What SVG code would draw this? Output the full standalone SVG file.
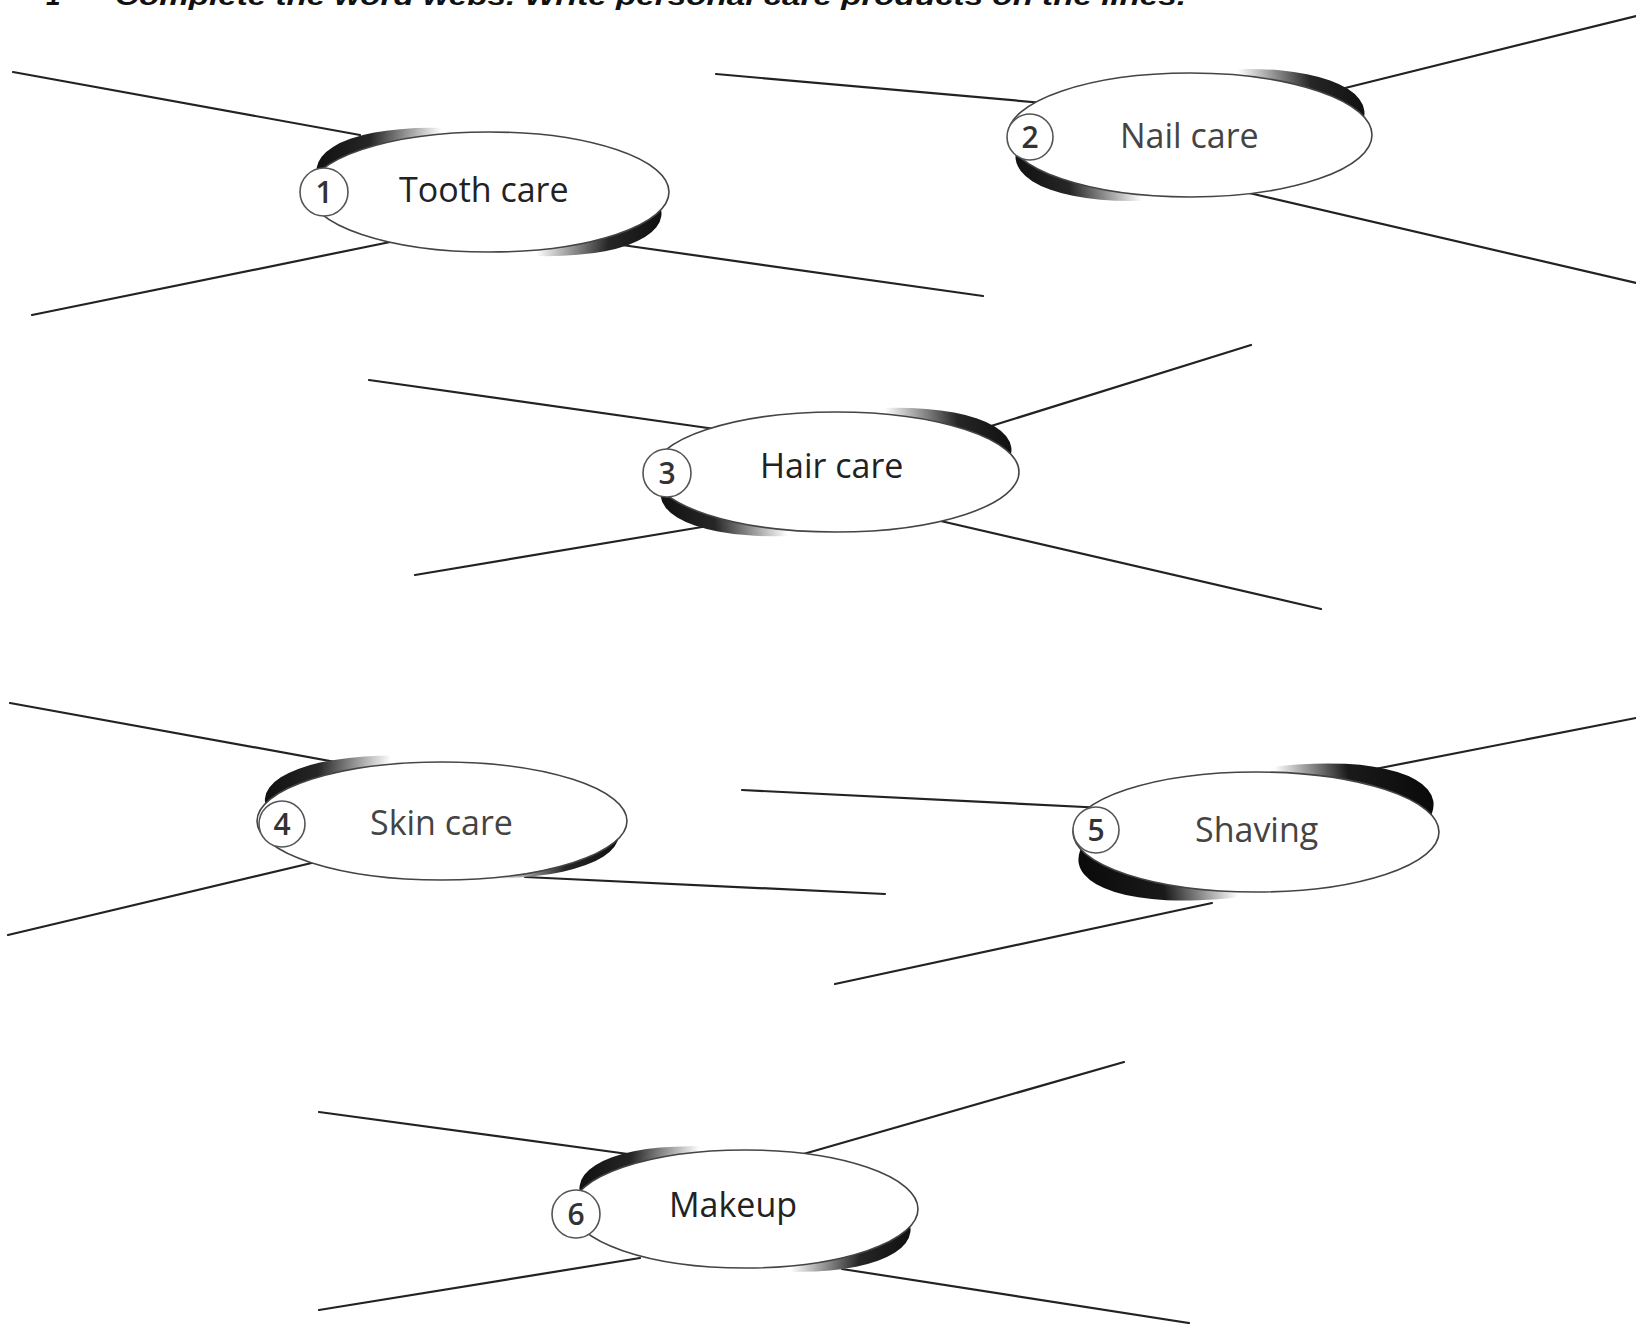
<svg xmlns="http://www.w3.org/2000/svg" width="1636" height="1324" viewBox="0 0 1636 1324">
<defs>
<style>
.ln{stroke:#222;stroke-width:2.2;fill:none;stroke-linecap:round}
.ov{fill:#fff;stroke:#444;stroke-width:1.6}
.num{fill:#fff;stroke:#555;stroke-width:1.6}
.nt{font-family:"Open Sans","Liberation Sans",sans-serif;font-weight:600;font-size:30px;fill:#333;text-anchor:middle}
.lb{font-family:"Open Sans","Liberation Sans",sans-serif;font-size:34px;fill:#222}
.lb2{fill:#444}
.hd{font-family:"Liberation Sans",sans-serif;font-weight:bold;font-style:italic;font-size:26px;fill:#111}
</style>
<linearGradient id="gA" x1="0" y1="0" x2="1" y2="0">
<stop offset="0" stop-color="#111"/>
<stop offset="0.14" stop-color="#262626"/>
<stop offset="0.34" stop-color="#fff"/>
<stop offset="0.66" stop-color="#fff"/>
<stop offset="0.86" stop-color="#262626"/>
<stop offset="1" stop-color="#111"/>
</linearGradient>
<linearGradient id="gB" x1="0" y1="0" x2="1" y2="0">
<stop offset="0" stop-color="#0a0a0a"/>
<stop offset="0.22" stop-color="#1a1a1a"/>
<stop offset="0.42" stop-color="#fff"/>
<stop offset="0.58" stop-color="#fff"/>
<stop offset="0.78" stop-color="#1a1a1a"/>
<stop offset="1" stop-color="#0a0a0a"/>
</linearGradient>
</defs>
<rect width="1636" height="1324" fill="#fff"/>

<g id="heading">
<text class="hd" x="46" y="5">1</text>
<text class="hd" x="115" y="5" textLength="1071" lengthAdjust="spacingAndGlyphs">Complete the word webs. Write personal care products on the lines.</text>
</g>

<g id="connectors">
<line class="ln" x1="13" y1="72" x2="360" y2="135"/>
<line class="ln" x1="32" y1="315" x2="400" y2="240"/>
<line class="ln" x1="983" y1="296" x2="615" y2="244"/>

<line class="ln" x1="716" y1="74" x2="1055" y2="104"/>
<line class="ln" x1="1636" y1="16" x2="1325" y2="93"/>
<line class="ln" x1="1636" y1="283" x2="1245" y2="192"/>

<line class="ln" x1="369" y1="380" x2="722" y2="430"/>
<line class="ln" x1="1251" y1="345" x2="975" y2="431"/>
<line class="ln" x1="415" y1="575" x2="714" y2="525"/>
<line class="ln" x1="1321" y1="609" x2="932" y2="519"/>

<line class="ln" x1="10" y1="703" x2="352" y2="765"/>
<line class="ln" x1="8" y1="935" x2="320" y2="861"/>
<line class="ln" x1="885" y1="894" x2="525" y2="877"/>

<line class="ln" x1="742" y1="790" x2="1105" y2="808"/>
<line class="ln" x1="1636" y1="718" x2="1370" y2="770"/>
<line class="ln" x1="835" y1="984" x2="1212" y2="903"/>

<line class="ln" x1="319" y1="1112" x2="628" y2="1154"/>
<line class="ln" x1="1124" y1="1062" x2="800" y2="1155"/>
<line class="ln" x1="319" y1="1310" x2="640" y2="1258"/>
<line class="ln" x1="1189" y1="1323" x2="842" y2="1269"/>
</g>

<g id="node1">
<ellipse cx="489" cy="192" rx="174" ry="60" fill="url(#gA)" transform="rotate(8 489 192)"/>
<ellipse class="ov" cx="489" cy="192" rx="180" ry="60"/>
<circle class="num" cx="324" cy="192" r="24"/>
<text class="nt" x="324" y="203">1</text>
<text class="lb" x="399" y="202">Tooth care</text>
</g>

<g id="node2">
<ellipse cx="1190" cy="135" rx="176" ry="62" fill="url(#gA)" transform="rotate(-8 1190 135)"/>
<ellipse class="ov" cx="1190" cy="135" rx="182" ry="62"/>
<circle class="num" cx="1030" cy="137" r="23"/>
<text class="nt" x="1030" y="148">2</text>
<text class="lb lb2" x="1120" y="148">Nail care</text>
</g>

<g id="node3">
<ellipse cx="836" cy="472" rx="177" ry="60" fill="url(#gA)" transform="rotate(-8 836 472)"/>
<ellipse class="ov" cx="836" cy="472" rx="183" ry="60"/>
<circle class="num" cx="667" cy="473" r="24"/>
<text class="nt" x="667" y="484">3</text>
<text class="lb" x="760" y="478">Hair care</text>
</g>

<g id="node4">
<ellipse cx="442" cy="817" rx="178" ry="59" fill="url(#gA)" transform="rotate(6 442 817)"/>
<ellipse class="ov" cx="442" cy="821" rx="185" ry="59"/>
<circle class="num" cx="282" cy="824" r="23"/>
<text class="nt" x="282" y="835">4</text>
<text class="lb lb2" x="370" y="835">Skin care</text>
</g>

<g id="node5">
<ellipse cx="1256" cy="832" rx="180" ry="62" fill="url(#gB)" transform="rotate(-10 1256 832)"/>
<ellipse class="ov" cx="1256" cy="832" rx="183" ry="60"/>
<circle class="num" cx="1096" cy="830" r="23"/>
<text class="nt" x="1096" y="841">5</text>
<text class="lb lb2" x="1195" y="842">Shaving</text>
</g>

<g id="node6">
<ellipse cx="745" cy="1209" rx="167" ry="59" fill="url(#gA)" transform="rotate(8 745 1209)"/>
<ellipse class="ov" cx="745" cy="1209" rx="173" ry="59"/>
<circle class="num" cx="576" cy="1214" r="24"/>
<text class="nt" x="576" y="1225">6</text>
<text class="lb" x="669" y="1217">Makeup</text>
</g>
</svg>
